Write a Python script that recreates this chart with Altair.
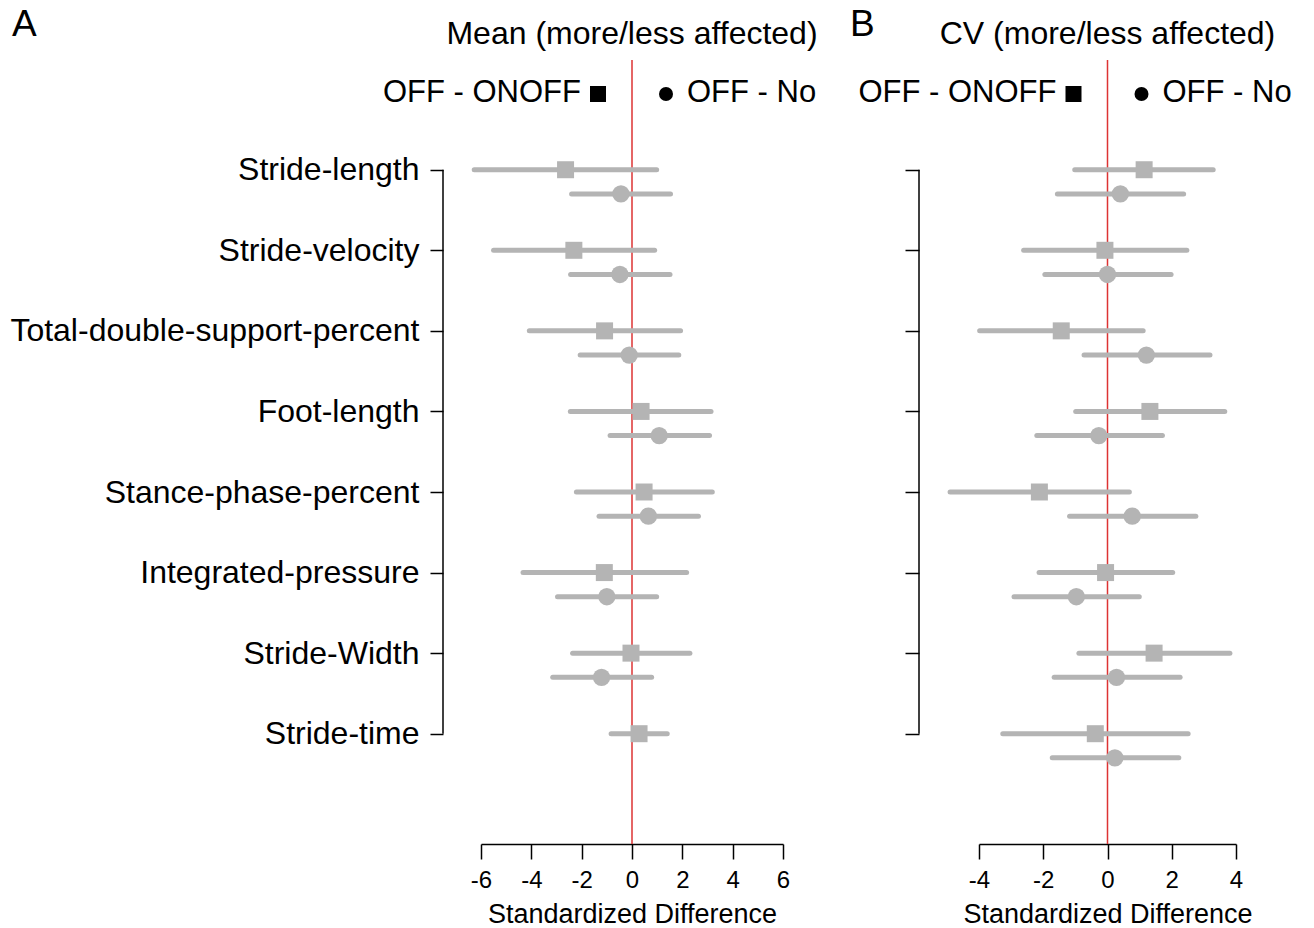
import altair as alt
import pandas as pd

measures = ["Stride-length", "Stride-velocity", "Total-double-support-percent", "Foot-length",
            "Stance-phase-percent", "Integrated-pressure", "Stride-Width", "Stride-time"]
groups = ["OFF - ONOFF", "OFF - No"]

# Panel A: Mean (lo, estimate, hi)
mean_onoff_lo = [-6.27, -5.50, -4.08, -2.45, -2.21, -4.33, -2.36, -0.83]
mean_onoff_est = [-2.64, -2.31, -1.09, 0.36, 0.48, -1.10, -0.04, 0.28]
mean_onoff_hi = [0.98, 0.90, 1.93, 3.14, 3.19, 2.17, 2.30, 1.40]
mean_no_lo = [-2.40, -2.44, -2.06, -0.87, -1.31, -2.96, -3.15]
mean_no_est = [-0.44, -0.48, -0.11, 1.08, 0.65, -1.00, -1.21]
mean_no_hi = [1.53, 1.51, 1.86, 3.08, 2.64, 0.98, 0.78]

# Panel B: CV
cv_onoff_lo = [-1.02, -2.61, -3.98, -0.99, -4.90, -2.13, -0.89, -3.26]
cv_onoff_est = [1.14, -0.08, -1.44, 1.32, -2.12, -0.06, 1.45, -0.38]
cv_onoff_hi = [3.29, 2.47, 1.11, 3.65, 0.68, 2.03, 3.81, 2.51]
cv_no_lo = [-1.56, -1.95, -0.73, -2.20, -1.18, -2.91, -1.66, -1.72]
cv_no_est = [0.40, 0.00, 1.21, -0.27, 0.77, -0.97, 0.28, 0.23]
cv_no_hi = [2.37, 1.98, 3.19, 1.71, 2.75, 0.99, 2.26, 2.22]

FONT = "Liberation Sans"
GREY = "#b4b4b4"
RED = "#dd3333"
H = 784
YDOM = [-1.362, 8.369]


def make_df(on_lo, on_est, on_hi, no_lo, no_est, no_hi):
    rows = []
    for i, (a, b, c) in enumerate(zip(on_lo, on_est, on_hi)):
        rows.append(dict(measure=measures[i], row=i, group=groups[0], lo=a, est=b, hi=c))
    for i, (a, b, c) in enumerate(zip(no_lo, no_est, no_hi)):
        rows.append(dict(measure=measures[i], row=i, group=groups[1], lo=a, est=b, hi=c))
    return pd.DataFrame(rows)


label_array = "[" + ",".join("'" + m + "'" for m in measures) + "]"


def panel(df, xdom, xticks, width, title, letter, letter_dx, show_labels, yoff, ytick):
    zero_px = width * (0 - xdom[0]) / (xdom[1] - xdom[0])
    xaxis = alt.Axis(values=xticks, title="Standardized Difference", grid=False,
                     domainColor="black", domainWidth=1.5, tickColor="black", tickWidth=1.5,
                     tickSize=15, labelFontSize=24, labelPadding=9, labelColor="black",
                     labelFont=FONT, titleFont=FONT, titleFontSize=27, titleFontWeight="normal",
                     titleColor="black", titlePadding=9, labelExpr="datum.value + ''",
                     labelFlush=False, labelOverlap=False)
    xscale = alt.Scale(domain=xdom, nice=False, zero=False)
    yaxis = alt.Axis(values=list(range(len(measures))), title=None, grid=False, domain=False,
                     offset=yoff, tickSize=ytick, tickColor="black", tickWidth=1.5,
                     labels=show_labels, labelExpr=label_array + "[datum.value]",
                     labelFontSize=32, labelFont=FONT, labelColor="black", labelPadding=11,
                     labelLimit=0, labelOverlap=False)
    yscale = alt.Scale(domain=YDOM, reverse=True, nice=False, zero=False)

    base = alt.Chart(df).transform_calculate(
        ypos="datum.row + (datum.group == 'OFF - No' ? 0.3 : 0)")

    bars = base.mark_rule(strokeWidth=5, strokeCap="round", color=GREY).encode(
        x=alt.X("lo:Q", scale=xscale, axis=xaxis),
        x2="hi:Q",
        y=alt.Y("ypos:Q", scale=yscale, axis=yaxis),
    )
    pts = base.mark_point(filled=True, opacity=1, color=GREY, strokeWidth=0).encode(
        x=alt.X("est:Q", scale=xscale, axis=xaxis),
        y=alt.Y("ypos:Q", scale=yscale, axis=yaxis),
        shape=alt.Shape("group:N", scale=alt.Scale(domain=groups, range=["square", "circle"]), legend=None),
        size=alt.Size("group:N", scale=alt.Scale(domain=groups, range=[289, 300]), legend=None),
    )
    one = alt.Chart(pd.DataFrame({"k": [0]}))
    zero = one.mark_rule(color=RED, strokeWidth=1.5).encode(
        x=alt.datum(0), y=alt.value(0), y2=alt.value(H))
    ydomain = one.mark_rule(color="black", strokeWidth=1.5).encode(
        x=alt.value(-yoff), y=alt.datum(0), y2=alt.datum(len(measures) - 1))
    ttl = one.mark_text(text=title, font=FONT, fontSize=32, align="center", baseline="alphabetic",
                        color="black").encode(x=alt.value(zero_px), y=alt.value(-16))
    leg1 = one.mark_text(text=groups[0], font=FONT, fontSize=31, align="right", baseline="alphabetic",
                         color="black").encode(x=alt.value(zero_px - 51), y=alt.value(42))
    leg2 = one.mark_text(text=groups[1], font=FONT, fontSize=31, align="left", baseline="alphabetic",
                         color="black").encode(x=alt.value(zero_px + 55), y=alt.value(42))
    sq = one.mark_point(shape="square", filled=True, opacity=1, color="black", size=256,
                        strokeWidth=0).encode(x=alt.value(zero_px - 34), y=alt.value(34))
    ci = one.mark_point(shape="circle", filled=True, opacity=1, color="black", size=196,
                        strokeWidth=0).encode(x=alt.value(zero_px + 34), y=alt.value(34))
    let = one.mark_text(text=letter, font=FONT, fontSize=37, align="left", baseline="top",
                        color="black").encode(x=alt.value(letter_dx), y=alt.value(-53))
    return alt.layer(zero, bars, pts, ydomain, ttl, leg1, leg2, sq, ci, let).properties(
        width=width, height=H)


dfA = make_df(mean_onoff_lo, mean_onoff_est, mean_onoff_hi, mean_no_lo, mean_no_est, mean_no_hi)
dfB = make_df(cv_onoff_lo, cv_onoff_est, cv_onoff_hi, cv_no_lo, cv_no_est, cv_no_hi)

pA = panel(dfA, [-6, 6], [-6, -4, -2, 0, 2, 4, 6], 302, "Mean (more/less affected)", "A", -469,
           True, 38, 13)
pB = panel(dfB, [-4, 4], [-4, -2, 0, 2, 4], 257, "CV (more/less affected)", "B", -129,
           False, 60, 14)

chart = alt.hconcat(pA, pB, spacing=196, bounds="flush").resolve_scale(
    x="independent", y="independent", shape="independent", size="independent"
).properties(
    padding={"left": 9, "top": 6, "right": 5, "bottom": 0}, background="white"
).configure_view(stroke=None)

chart.save("out.html", embed_options={"renderer": "svg", "actions": False})
